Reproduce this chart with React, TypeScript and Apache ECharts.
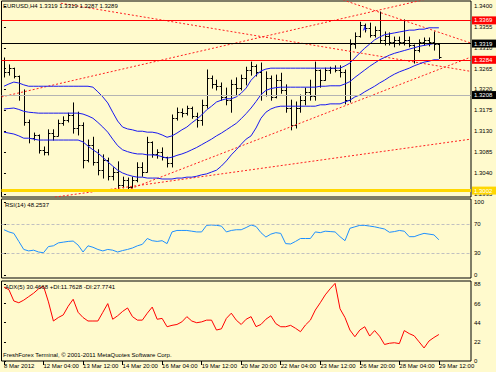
import React, { useEffect, useRef } from "react";
import * as echarts from "echarts";

const timeLabels = [
  "8 Mar 2012", "12 Mar 04:00", "13 Mar 12:00", "14 Mar 20:00", "16 Mar 04:00", "19 Mar 12:00",
  "20 Mar 20:00", "22 Mar 04:00", "23 Mar 12:00", "26 Mar 20:00", "28 Mar 04:00", "29 Mar 12:00",
];
const timeLabelBars = [0, 8, 16, 24, 32, 40, 48, 56, 64, 72, 80, 88];
const priceTicks = [1.2995, 1.304, 1.3085, 1.313, 1.3175, 1.322, 1.3265, 1.331, 1.3355, 1.34];
const rsiTicks = [0, 30, 70, 100];
const rsiLevels = [30, 70];
const adxTicks = [0, 22, 44, 66, 88];
const levelPrices = [1.3369, 1.3319, 1.3284, 1.3208, 1.3002];
const tradeArrow = [[73, 1.3359]];

// open, high, low, close
const bars: number[][] = [
  [1.3284, 1.3288, 1.3247, 1.3258], [1.3258, 1.3273, 1.3251, 1.3266], [1.3266, 1.3266, 1.3245, 1.3249],
  [1.3249, 1.3249, 1.3197, 1.3208], [1.3208, 1.3219, 1.3143, 1.315], [1.315, 1.3154, 1.3105, 1.3115],
  [1.3115, 1.3126, 1.3111, 1.3122], [1.3122, 1.3122, 1.3083, 1.309], [1.309, 1.3096, 1.3079, 1.3085],
  [1.3085, 1.3133, 1.3079, 1.3126], [1.3126, 1.3133, 1.3111, 1.312], [1.312, 1.3154, 1.312, 1.3148],
  [1.3148, 1.3161, 1.3143, 1.3154], [1.3154, 1.3169, 1.315, 1.3165], [1.3165, 1.3191, 1.3126, 1.3137],
  [1.3137, 1.3171, 1.3122, 1.3143], [1.3143, 1.3148, 1.3051, 1.3068], [1.3068, 1.3111, 1.3064, 1.31],
  [1.31, 1.3117, 1.3057, 1.3064], [1.3064, 1.309, 1.3036, 1.3046], [1.3046, 1.3079, 1.3029, 1.3068],
  [1.3068, 1.3072, 1.3025, 1.3033], [1.3033, 1.3051, 1.3025, 1.3042], [1.3042, 1.3064, 1.3003, 1.3014],
  [1.3014, 1.3031, 1.3008, 1.3025], [1.3025, 1.3029, 1.3001, 1.301], [1.301, 1.3031, 1.3008, 1.3025],
  [1.3025, 1.3062, 1.3021, 1.3053], [1.3053, 1.3062, 1.3033, 1.3042], [1.3042, 1.3117, 1.3042, 1.3107],
  [1.3107, 1.3107, 1.3074, 1.3081], [1.3081, 1.309, 1.3072, 1.3085], [1.3085, 1.3094, 1.3068, 1.3074],
  [1.3074, 1.3074, 1.3053, 1.3062], [1.3062, 1.3165, 1.3053, 1.3158], [1.3158, 1.318, 1.3154, 1.3171],
  [1.3171, 1.3178, 1.3161, 1.3169], [1.3169, 1.3184, 1.3165, 1.318], [1.318, 1.3182, 1.3158, 1.3163],
  [1.3163, 1.3169, 1.3139, 1.3154], [1.3154, 1.3197, 1.3143, 1.3187], [1.3187, 1.3262, 1.318, 1.3245],
  [1.3245, 1.3249, 1.3223, 1.3232], [1.3232, 1.324, 1.3219, 1.3227], [1.3227, 1.3234, 1.3197, 1.3204],
  [1.3204, 1.3223, 1.3187, 1.3197], [1.3197, 1.324, 1.3171, 1.3232], [1.3232, 1.3245, 1.3208, 1.3223],
  [1.3223, 1.3251, 1.3219, 1.3245], [1.3245, 1.3268, 1.323, 1.3262], [1.3262, 1.3279, 1.3251, 1.3271],
  [1.3271, 1.3273, 1.3249, 1.3258], [1.3258, 1.3277, 1.3197, 1.3208], [1.3208, 1.3258, 1.3206, 1.3245],
  [1.3245, 1.3249, 1.3197, 1.3204], [1.3204, 1.3251, 1.3202, 1.324], [1.324, 1.3255, 1.3212, 1.3219],
  [1.3219, 1.323, 1.3171, 1.318], [1.318, 1.3197, 1.3133, 1.3143], [1.3143, 1.3193, 1.3137, 1.318],
  [1.318, 1.3208, 1.3171, 1.3197], [1.3197, 1.3223, 1.3187, 1.3215], [1.3215, 1.324, 1.3197, 1.3206],
  [1.3206, 1.3279, 1.3197, 1.3262], [1.3262, 1.3262, 1.3225, 1.324], [1.324, 1.3266, 1.324, 1.3262],
  [1.3262, 1.3268, 1.3255, 1.3266], [1.3266, 1.3271, 1.3258, 1.3262], [1.3262, 1.3271, 1.3247, 1.3258],
  [1.3258, 1.3262, 1.3189, 1.3197], [1.3197, 1.3327, 1.3193, 1.3318], [1.3318, 1.3342, 1.3309, 1.3335],
  [1.3335, 1.3365, 1.3333, 1.3359], [1.3359, 1.3361, 1.3344, 1.3353], [1.3353, 1.3363, 1.3333, 1.3338],
  [1.3338, 1.3355, 1.3333, 1.3348], [1.3348, 1.3387, 1.332, 1.3327], [1.3327, 1.3344, 1.3316, 1.3335],
  [1.3335, 1.3342, 1.3316, 1.3322], [1.3322, 1.3333, 1.3312, 1.3327], [1.3327, 1.3333, 1.3316, 1.3322],
  [1.3322, 1.337, 1.3316, 1.3327], [1.3327, 1.3333, 1.3312, 1.3316], [1.3316, 1.3316, 1.3277, 1.3305],
  [1.3305, 1.3327, 1.3301, 1.3322], [1.3322, 1.3331, 1.3316, 1.3327], [1.3327, 1.3331, 1.3314, 1.3322],
  [1.3322, 1.3344, 1.3305, 1.3318], [1.3319, 1.3319, 1.3287, 1.3289],
];

const bbUpper = [
  1.3227, 1.3232, 1.3236, 1.3234, 1.323, 1.3227, 1.3227, 1.3227, 1.3227, 1.3227,
  1.3227, 1.3227, 1.3227, 1.3227, 1.3227, 1.3227, 1.3227, 1.3227, 1.3225, 1.3215,
  1.3204, 1.3191, 1.3171, 1.3152, 1.3139, 1.3135, 1.3133, 1.313, 1.313, 1.3128,
  1.3128, 1.3126, 1.3122, 1.3117, 1.312, 1.3126, 1.3133, 1.3139, 1.3148, 1.3156,
  1.3165, 1.3176, 1.3184, 1.3193, 1.3197, 1.32, 1.32, 1.3204, 1.3212, 1.3223,
  1.324, 1.3251, 1.326, 1.3264, 1.3266, 1.3266, 1.3266, 1.3266, 1.3266, 1.3266,
  1.3266, 1.3266, 1.3266, 1.3266, 1.3266, 1.3266, 1.3266, 1.3266, 1.3266, 1.3271,
  1.3277, 1.3288, 1.3299, 1.3309, 1.3318, 1.3327, 1.3333, 1.3338, 1.334, 1.3342,
  1.3344, 1.3346, 1.3348, 1.3348, 1.335, 1.335, 1.3353, 1.3353, 1.3353,
];
const bbMiddle = [
  1.3178, 1.3179, 1.318, 1.3177, 1.3173, 1.3171, 1.317, 1.3169, 1.3169, 1.3169,
  1.3169, 1.3169, 1.3169, 1.3169, 1.3169, 1.3169, 1.3167, 1.3163, 1.3158, 1.3149,
  1.3139, 1.3128, 1.3113, 1.3099, 1.309, 1.3086, 1.3083, 1.3081, 1.3081, 1.3079,
  1.3079, 1.3078, 1.3075, 1.3072, 1.3074, 1.3078, 1.3081, 1.3085, 1.309, 1.3095,
  1.3101, 1.3107, 1.3113, 1.312, 1.3126, 1.3133, 1.314, 1.3147, 1.3157, 1.3168,
  1.318, 1.3194, 1.3209, 1.3218, 1.3222, 1.3224, 1.3225, 1.3225, 1.3225, 1.3225,
  1.3225, 1.3225, 1.3225, 1.3225, 1.3227, 1.3227, 1.3228, 1.3228, 1.3228, 1.3232,
  1.3237, 1.3246, 1.3254, 1.3262, 1.327, 1.3277, 1.3284, 1.3289, 1.3294, 1.3298,
  1.3301, 1.3304, 1.3307, 1.331, 1.3313, 1.3315, 1.3317, 1.3319, 1.3319,
];
const bbLower = [
  1.3128, 1.3126, 1.3124, 1.312, 1.3115, 1.3115, 1.3113, 1.3111, 1.3111, 1.3111,
  1.3111, 1.3111, 1.3111, 1.3111, 1.3111, 1.3111, 1.3107, 1.3098, 1.309, 1.3083,
  1.3074, 1.3064, 1.3055, 1.3046, 1.304, 1.3036, 1.3033, 1.3031, 1.3031, 1.3029,
  1.3029, 1.3029, 1.3027, 1.3027, 1.3027, 1.3029, 1.3029, 1.3031, 1.3031, 1.3033,
  1.3036, 1.3038, 1.3042, 1.3046, 1.3055, 1.3066, 1.3079, 1.309, 1.3102, 1.3113,
  1.312, 1.3137, 1.3158, 1.3171, 1.3178, 1.3182, 1.3184, 1.3184, 1.3184, 1.3184,
  1.3184, 1.3184, 1.3184, 1.3184, 1.3187, 1.3187, 1.3189, 1.3189, 1.3189, 1.3193,
  1.3197, 1.3204, 1.3208, 1.3215, 1.3221, 1.3227, 1.3234, 1.324, 1.3247, 1.3253,
  1.3258, 1.3262, 1.3266, 1.3271, 1.3275, 1.3279, 1.3281, 1.3284, 1.3284,
];

const rsi = [
  62, 59, 57, 46, 35, 33, 34, 31.5, 30.5, 39,
  40, 44, 45, 46, 46.5, 41, 31.5, 40, 38, 35,
  33, 35, 34, 31.5, 33.5, 35, 37, 40, 42, 50,
  47, 46, 47, 43, 59, 61, 61, 61, 60, 59,
  59, 68, 68.5, 68, 67, 59, 61, 62, 62, 65,
  68.5, 66.5, 58, 52, 56, 58, 57, 43, 42.5, 46,
  50, 50, 50, 59, 58, 60, 59.5, 59, 52.5, 47,
  64, 66, 68, 68, 67, 66, 64.5, 63, 58.5, 59.5,
  61, 60, 52.5, 52.5, 55, 57, 56, 55, 48.25,
];

const adx = [
  85, 82, 69, 67, 70, 74, 78, 83, 86, 68,
  46, 50, 53, 63, 71, 56, 50, 46, 46, 46,
  56, 66, 48, 52, 57, 61, 51, 47, 47, 55,
  62, 48, 49, 39.4, 41, 42, 45, 51, 46, 44,
  45, 47, 47, 35.6, 37, 49, 55, 47, 42, 48,
  51, 39.5, 42, 48, 52, 43, 39.4, 39.4, 41, 37.6,
  33.7, 41.4, 47, 58.6, 67, 76, 83, 89.3, 60, 50,
  35.6, 27.9, 35.6, 39.4, 28.7, 35, 28.5, 19, 20.4, 21,
  20, 35, 31.5, 29, 22, 15, 23, 27, 30.47,
];

// trend lines: [barIndex, price] end points
const trendLines = [
  [[11.5, 1.3406], [94.5, 1.3259]],
  [[-0.5, 1.3204], [88, 1.3421]],
  [[68.6, 1.3413], [94.5, 1.332]],
  [[24.9, 1.3003], [94.5, 1.329]],
  [[10.3, 1.2988], [94.5, 1.3113]],
];

const FONT = "Liberation Sans";
const BG = "#FFFACD";
const levelStyles = [
  { line: "#FF0000", w: 1, bg: "#FF0000", fg: "#FFFFFF" },
  { line: "#000000", w: 1, bg: "#000000", fg: "#FFFFFF" },
  { line: "#FF0000", w: 1, bg: "#FF0000", fg: "#FFFFFF" },
  { line: "#B4B4B4", w: 1, bg: "#000000", fg: "#FFFFFF" },
  { line: "#FFD700", w: 3, bg: "#FFD700", fg: "#FFFFFF" },
];

export default function App() {
  const ref = useRef<HTMLDivElement>(null);
  useEffect(() => {
    const chart = echarts.init(ref.current!, undefined, { renderer: "svg" });
    const idx = bars.map((_, i) => i);
    const gridBase = { left: 1.5, right: 25, show: true, borderColor: "#000", borderWidth: 1, backgroundColor: "transparent" };
    const xBase = { type: "value", min: -0.5, max: 94.5, axisLine: { show: false }, splitLine: { show: false } };
    const labelStyle = { fontFamily: FONT, fontSize: 6, color: "#000" };
    const yBase = {
      type: "value", position: "right", splitLine: { show: false }, axisLine: { show: false },
    };
    const option: any = {
      animation: false,
      backgroundColor: BG,
      textStyle: { fontFamily: FONT, fontSize: 6 },
      title: [
        { text: "EURUSD,H4 1.3319 1.3319 1.3287 1.3289", left: 3, top: 2.5, padding: 0, textStyle: { ...labelStyle, fontWeight: "normal" } },
        { text: "RSI(14) 48.2537", left: 5, top: 202, padding: 0, textStyle: { ...labelStyle, fontWeight: "normal" } },
        { text: "ADX(5) 30.4668 +DI:11.7628 -DI:27.7741", left: 5, top: 284, padding: 0, textStyle: { ...labelStyle, fontWeight: "normal" } },
        { text: "FreshForex Terminal, © 2001-2011 MetaQuotes Software Corp.", left: 3, top: 352, padding: 0, textStyle: { ...labelStyle, fontWeight: "normal" } },
      ],
      grid: [
        { ...gridBase, top: 1, height: 196 },
        { ...gridBase, top: 199, height: 79 },
        { ...gridBase, top: 281, height: 80 },
      ],
      xAxis: [
        { ...xBase, gridIndex: 0, axisTick: { show: false }, axisLabel: { show: false } },
        { ...xBase, gridIndex: 1, axisTick: { show: false }, axisLabel: { show: false } },
        {
          ...xBase, gridIndex: 2,
          axisTick: { show: true, customValues: timeLabelBars, length: 4, lineStyle: { color: "#000" } },
          axisLabel: {
            show: true, customValues: timeLabelBars, align: "left", margin: 2, ...labelStyle,
            formatter: (v: number) => timeLabels[timeLabelBars.indexOf(Math.round(v))] ?? "",
          },
        },
      ],
      yAxis: [
        {
          ...yBase, gridIndex: 0, min: 1.29882, max: 1.34108,
          axisTick: { show: true, customValues: priceTicks, length: 2, lineStyle: { color: "#000" } },
          axisLabel: { show: true, customValues: priceTicks, margin: 3, ...labelStyle, formatter: (v: number) => v.toFixed(4) },
        },
        {
          ...yBase, gridIndex: 1, min: -4.1, max: 104.1,
          axisTick: { show: true, customValues: rsiTicks, length: 2, lineStyle: { color: "#000" } },
          axisLabel: { show: true, customValues: rsiTicks, margin: 3, ...labelStyle, formatter: (v: number) => String(v) },
        },
        {
          ...yBase, gridIndex: 2, min: 0, max: 92,
          axisTick: { show: true, customValues: adxTicks, length: 2, lineStyle: { color: "#000" } },
          axisLabel: { show: true, customValues: adxTicks, margin: 3, ...labelStyle, formatter: (v: number) => String(v) },
        },
      ],
      series: [
        ...trendLines.map((pts) => ({
          type: "line", xAxisIndex: 0, yAxisIndex: 0, data: pts, symbol: "none", clip: true, silent: true,
          lineStyle: { color: "#FF2020", width: 1, type: [2, 2] },
        })),
        {
          type: "line", xAxisIndex: 0, yAxisIndex: 0, data: idx.map((i) => [i, bbUpper[i]]), symbol: "none", silent: true,
          lineStyle: { color: "#1818F0", width: 1 },
        },
        {
          type: "line", xAxisIndex: 0, yAxisIndex: 0, data: idx.map((i) => [i, bbLower[i]]), symbol: "none", silent: true,
          lineStyle: { color: "#1818F0", width: 1 },
        },
        {
          type: "line", xAxisIndex: 0, yAxisIndex: 0, data: idx.map((i) => [i, bbMiddle[i]]), symbol: "none", silent: true,
          lineStyle: { color: "#1818F0", width: 1 },
          markLine: {
            silent: true, symbol: ["none", "none"], animation: false, precision: 4,
            data: levelPrices.map((v, k) => ({
              yAxis: v,
              lineStyle: { color: levelStyles[k].line, width: levelStyles[k].w, type: "solid" },
              label: {
                show: true, position: "end", distance: 1, formatter: v.toFixed(4),
                fontFamily: FONT, fontSize: 6, color: levelStyles[k].fg, backgroundColor: levelStyles[k].bg,
                padding: [1, 4, 1, 2],
              },
            })),
          },
        },
        {
          type: "custom", xAxisIndex: 0, yAxisIndex: 0, silent: true,
          data: bars.map((b, i) => [i, b[0], b[1], b[2], b[3]]),
          encode: { x: 0, y: [1, 2, 3, 4] },
          renderItem: (_p: any, api: any) => {
            const i = api.value(0);
            const pO = api.coord([i, api.value(1)]);
            const pH = api.coord([i, api.value(2)]);
            const pL = api.coord([i, api.value(3)]);
            const pC = api.coord([i, api.value(4)]);
            const x = Math.round(pH[0]) + 0.5;
            const st = { stroke: "#000", lineWidth: 1 };
            return {
              type: "group",
              children: [
                { type: "line", shape: { x1: x, y1: pH[1] - 0.5, x2: x, y2: pL[1] + 0.5 }, style: st },
                { type: "line", shape: { x1: x - 2, y1: Math.round(pO[1]) + 0.5, x2: x, y2: Math.round(pO[1]) + 0.5 }, style: st },
                { type: "line", shape: { x1: x, y1: Math.round(pC[1]) + 0.5, x2: x + 2, y2: Math.round(pC[1]) + 0.5 }, style: st },
              ],
            };
          },
        },
        {
          type: "scatter", xAxisIndex: 0, yAxisIndex: 0, data: tradeArrow, silent: true,
          symbol: "arrow", symbolSize: [3, 6], itemStyle: { color: "#0000FF" },
        },
        {
          type: "line", xAxisIndex: 1, yAxisIndex: 1, data: idx.map((i) => [i, rsi[i]]), symbol: "none", silent: true,
          lineStyle: { color: "#1E90FF", width: 1 },
          markLine: {
            silent: true, symbol: ["none", "none"], animation: false, label: { show: false },
            data: rsiLevels.map((v) => ({ yAxis: v })),
            lineStyle: { color: "#C0C0C0", width: 1, type: [3, 2] },
          },
        },
        {
          type: "line", xAxisIndex: 2, yAxisIndex: 2, data: idx.map((i) => [i, adx[i]]), symbol: "none", silent: true,
          lineStyle: { color: "#FF0000", width: 1 },
        },
      ],
    };
    chart.setOption(option);
    return () => chart.dispose();
  }, []);
  return <div ref={ref} style={{ position: "fixed", left: 0, top: 0, width: 496, height: 372 }} />;
}
